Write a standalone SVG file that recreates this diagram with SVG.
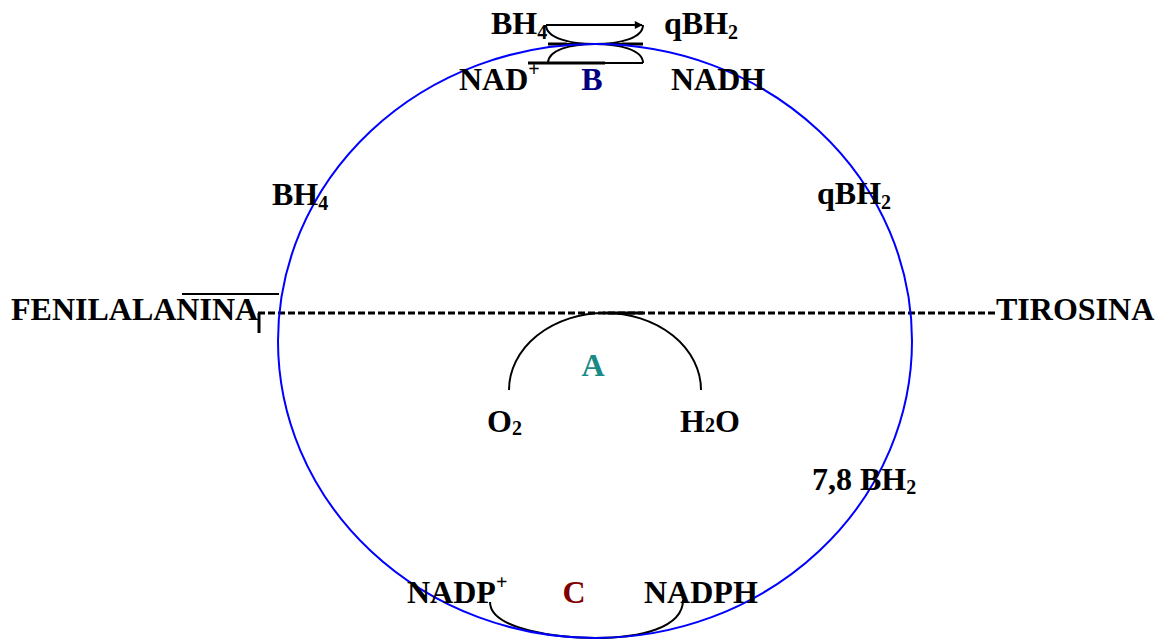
<svg xmlns="http://www.w3.org/2000/svg" width="1158" height="639" viewBox="0 0 1158 639">
<defs>
<marker id="ah" viewBox="0 0 10 10" refX="9" refY="5" markerWidth="9" markerHeight="8" markerUnits="userSpaceOnUse" orient="auto"><path d="M0,0 L10,5 L0,10 z" fill="#000"/></marker>
<style>
.t{font-family:"Liberation Serif","Times New Roman",serif;font-weight:bold;font-size:32px;fill:#000}
.s{font-size:20px}
.ln{fill:none;stroke:#000;stroke-width:2}
.th{stroke-width:3}
</style>
</defs>
<rect width="1158" height="639" fill="#fff"/>
<g id="connectors">
<path class="ln th" d="M258,313 H995" stroke-dasharray="7,3"/>
<path class="ln th" d="M603,313 H643"/>
<path class="ln" d="M182,294 H279"/>
<path class="ln th" d="M259,313 V333"/>
<path class="ln" d="M509,390 A96,77 0 0 1 701,390"/>
<path class="ln" d="M490,602 C490,630 560,638 595,638 C640,638 683,628 683,600"/>
<path class="ln" d="M546,25 H642" marker-end="url(#ah)"/>
<path class="ln" d="M546,25 C546,38 570,44 595,44 L643,44"/>
<path class="ln" d="M643,25 C643,38 620,44 595,44 L548,44"/>
<path class="ln th" d="M548,44 H567 M622,44 H643"/>
<path class="ln" d="M548,63 C548,50 570,44 595,44 C620,44 643,50 643,63"/>
<path class="ln" d="M528,63 H643"/>
<path class="ln th" d="M528,63 H605"/>
</g>
<g id="cycle"><ellipse cx="595" cy="341" rx="317" ry="297" fill="none" stroke="#0000ff" stroke-width="2"/></g>
<g id="fenilalanina"><text class="t" x="11" y="320">FENILALANINA</text></g>
<g id="tirosina"><text class="t" x="996" y="320">TIROSINA</text></g>
<g id="bh4-top"><text class="t" x="491" y="34">BH<tspan class="s" dy="5">4</tspan></text></g>
<g id="qbh2-top"><text class="t" x="664" y="34">qBH<tspan class="s" dy="5">2</tspan></text></g>
<g id="nad"><text class="t" x="459" y="90">NAD<tspan class="s" dy="-14">+</tspan></text></g>
<g id="B"><text class="t" x="592" y="90" text-anchor="middle" style="fill:#000080">B</text></g>
<g id="nadh"><text class="t" x="671" y="90">NADH</text></g>
<g id="bh4"><text class="t" x="272" y="205">BH<tspan class="s" dy="5">4</tspan></text></g>
<g id="qbh2"><text class="t" x="817" y="204">qBH<tspan class="s" dy="5">2</tspan></text></g>
<g id="A"><text class="t" x="593" y="376" text-anchor="middle" style="fill:#1a8a86">A</text></g>
<g id="o2"><text class="t" x="487" y="432">O<tspan class="s" dy="3">2</tspan></text></g>
<g id="h2o"><text class="t" x="680" y="432">H<tspan class="s">2</tspan>O</text></g>
<g id="bh2"><text class="t" x="812" y="490">7,8 BH<tspan class="s" dy="4">2</tspan></text></g>
<g id="nadp"><text class="t" x="407" y="603">NADP<tspan class="s" dy="-14">+</tspan></text></g>
<g id="C"><text class="t" x="574" y="603" text-anchor="middle" style="fill:#800000">C</text></g>
<g id="nadph"><text class="t" x="644" y="603">NADPH</text></g>
</svg>
